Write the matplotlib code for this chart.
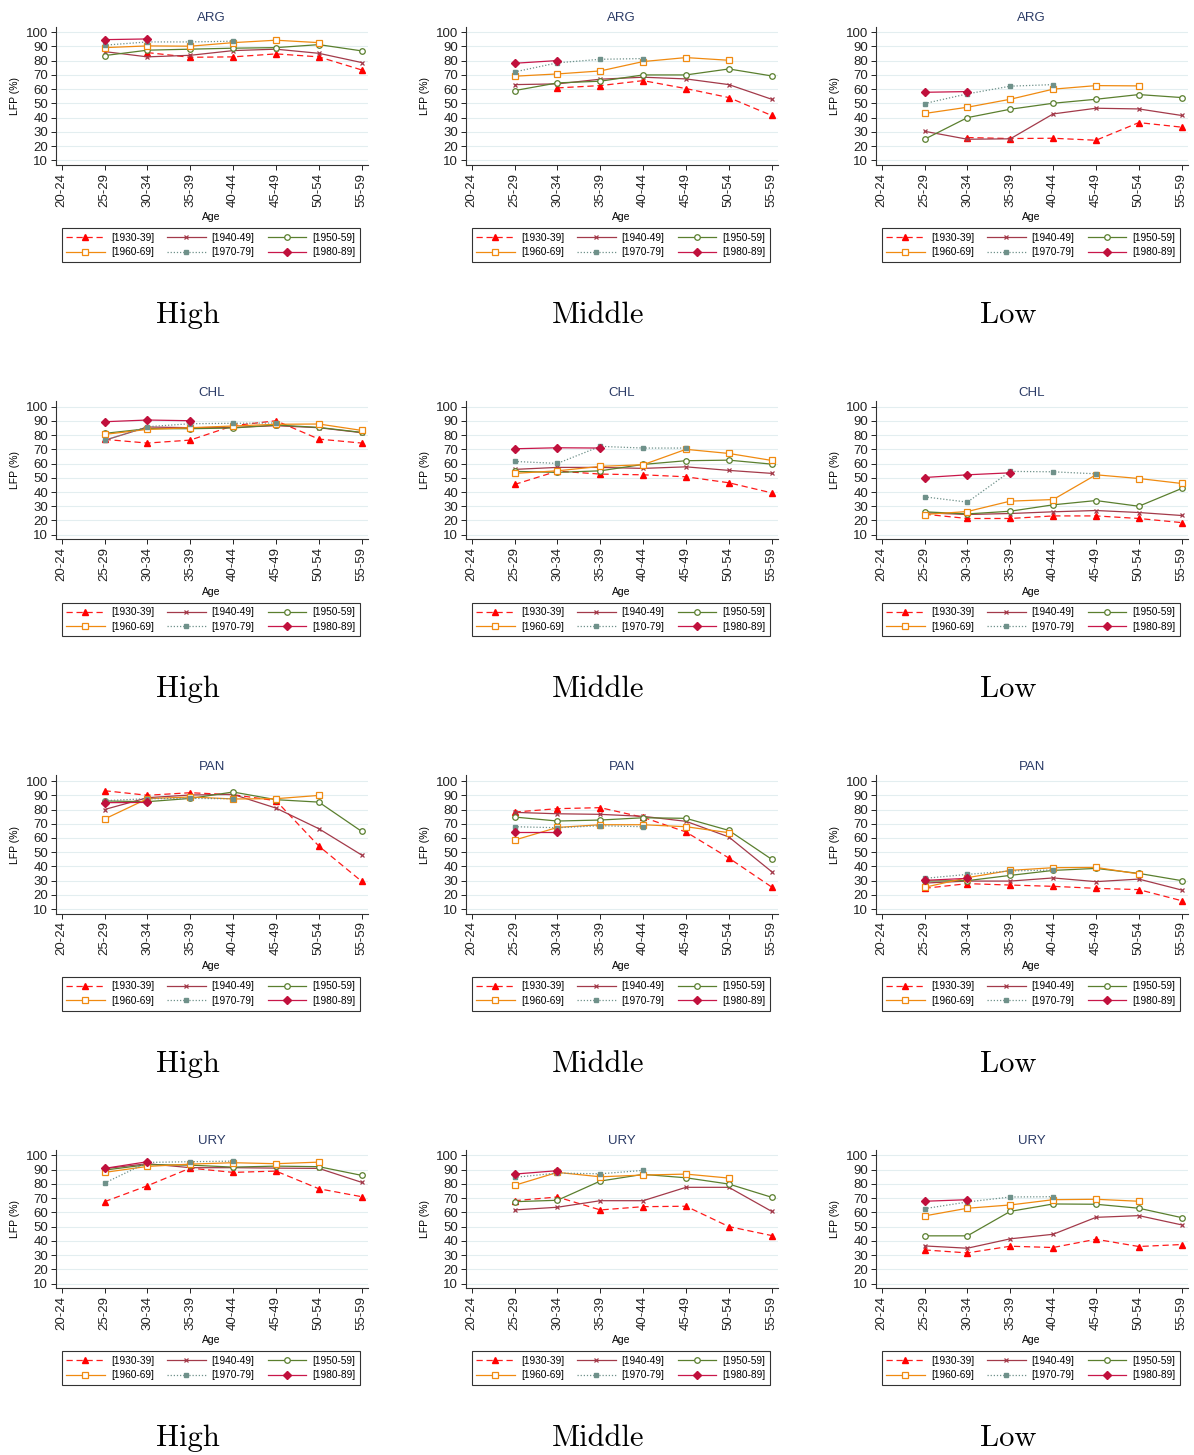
import numpy as np
import matplotlib
matplotlib.use('Agg')
import matplotlib.pyplot as plt

nan = np.nan

ages = ['20-24', '25-29', '30-34', '35-39', '40-44', '45-49', '50-54', '55-59']
cohorts = ['[1930-39]', '[1940-49]', '[1950-59]', '[1960-69]', '[1970-79]', '[1980-89]']
countries = ['ARG', 'CHL', 'PAN', 'URY']
levels = ['High', 'Middle', 'Low']

# one list per cohort (1930s ... 1980s), values by age group, nan = not observed
ARG_HIGH = [[nan, nan, 85.7, 82.4, 82.7, 84.8, 82.7, 73.5],
            [nan, 86.4, 82.7, 83.8, 87.1, 88.1, 85.2, 78.7],
            [nan, 83.6, 87.4, 88.1, 88.8, 89.2, 91.3, 86.9],
            [nan, 89.2, 90.4, 90.2, 92.7, 94.4, 92.7],
            [nan, 90.9, 93.2, 93.2, 93.7],
            [nan, 94.8, 95.3]]
ARG_MID = [[nan, nan, 60.9, 62.5, 66.0, 60.4, 54.1, 41.5],
           [nan, 63.2, 63.7, 67.0, 68.4, 67.2, 63.2, 52.9],
           [nan, 59.0, 64.4, 65.6, 70.0, 70.0, 74.2, 69.3],
           [nan, 69.1, 70.7, 72.8, 79.4, 82.2, 80.3],
           [nan, 72.1, 78.5, 81.0, 81.5],
           [nan, 78.2, 80.1]]
ARG_LOW = [[nan, nan, 26.0, 25.3, 25.5, 24.1, 36.5, 33.3],
           [nan, 30.4, 24.8, 25.1, 42.6, 46.6, 46.1, 41.5],
           [nan, 24.8, 40.0, 45.9, 50.1, 52.9, 56.2, 54.1],
           [nan, 42.9, 47.3, 52.9, 60.0, 62.5, 62.3],
           [nan, 49.9, 56.7, 62.1, 63.2],
           [nan, 57.8, 58.3]]

CHL_HIGH = [[nan, 77.0, 74.4, 76.5, 86.6, 90.1, 77.2, 74.4],
            [nan, 76.3, 85.7, 85.2, 85.4, 86.6, 85.2, 81.7],
            [nan, 81.2, 84.5, 84.5, 85.0, 87.1, 85.4, 81.9],
            [nan, 80.5, 84.0, 85.2, 86.4, 87.6, 87.8, 83.3],
            [nan, 76.3, 85.9, 88.0, 88.3, 88.5],
            [nan, 89.4, 90.6, 90.1]]
CHL_MID = [[nan, 45.3, 54.7, 52.6, 52.1, 50.7, 46.5, 39.4],
           [nan, 55.9, 57.3, 57.3, 56.6, 57.7, 55.2, 53.1],
           [nan, 54.5, 53.8, 54.9, 59.4, 62.0, 62.4, 59.6],
           [nan, 53.1, 54.9, 58.0, 59.2, 70.0, 67.1, 62.2],
           [nan, 61.5, 60.1, 72.1, 70.9, 70.9],
           [nan, 70.4, 71.1, 70.9]]
CHL_LOW = [[nan, 24.4, 21.4, 21.4, 23.2, 23.2, 21.4, 18.5],
           [nan, 25.4, 24.2, 24.9, 26.1, 27.0, 25.6, 23.5],
           [nan, 26.1, 24.6, 26.5, 31.0, 34.0, 30.0, 42.5],
           [nan, 24.2, 26.3, 33.6, 34.7, 52.1, 49.5, 46.0],
           [nan, 36.6, 32.9, 54.5, 54.2, 52.8],
           [nan, 50.2, 52.1, 53.5]]

PAN_HIGH = [[nan, 93.2, 90.0, 91.8, 90.4, 86.2, 54.3, 29.5],
            [nan, 80.0, 88.3, 90.2, 90.6, 81.0, 66.5, 48.0],
            [nan, 86.0, 85.5, 87.8, 92.3, 86.9, 85.2, 64.6],
            [nan, 73.3, 87.6, 88.8, 87.4, 87.6, 89.9],
            [nan, 86.2, 87.6, 87.8, 87.6],
            [nan, 84.8, 85.0]]
PAN_MID = [[nan, 78.2, 80.6, 81.3, 74.5, 64.2, 45.9, 25.5],
           [nan, 78.0, 77.0, 76.6, 75.2, 71.7, 60.7, 36.3],
           [nan, 74.7, 71.9, 72.6, 74.2, 73.8, 65.3, 45.0],
           [nan, 58.5, 67.4, 69.3, 69.3, 67.9, 63.7],
           [nan, 67.9, 67.2, 68.6, 67.9],
           [nan, 64.2, 64.2]]
PAN_LOW = [[nan, 24.6, 27.9, 26.9, 26.0, 24.6, 23.7, 15.9],
           [nan, 28.3, 29.7, 29.7, 31.9, 29.3, 31.1, 23.4],
           [nan, 29.7, 30.0, 33.7, 37.2, 38.6, 35.1, 30.0],
           [nan, 25.3, 32.1, 37.2, 39.1, 39.3, 34.7],
           [nan, 31.6, 34.4, 36.8, 37.5],
           [nan, 30.2, 31.6]]

URY_HIGH = [[nan, 67.5, 78.7, 91.1, 88.1, 89.0, 76.6, 71.0],
            [nan, 90.7, 94.2, 91.4, 91.4, 91.1, 90.9, 81.1],
            [nan, 89.7, 93.5, 93.2, 91.8, 92.5, 92.1, 86.0],
            [nan, 88.1, 92.3, 93.9, 94.9, 94.2, 95.3],
            [nan, 80.6, 95.1, 95.6, 96.0],
            [nan, 90.9, 95.6]]
URY_MID = [[nan, 68.2, 70.8, 61.7, 64.0, 64.3, 50.0, 43.7],
           [nan, 61.7, 63.6, 68.2, 68.2, 77.6, 77.6, 60.7],
           [nan, 67.5, 68.5, 82.0, 86.7, 84.3, 79.9, 70.6],
           [nan, 79.0, 88.1, 85.0, 86.2, 86.9, 84.1],
           [nan, 84.6, 87.6, 87.1, 89.5],
           [nan, 86.9, 89.3]]
URY_LOW = [[nan, 33.6, 31.5, 36.2, 35.3, 41.1, 36.0, 37.4],
           [nan, 36.4, 34.8, 41.4, 44.6, 56.5, 57.7, 51.2],
           [nan, 43.5, 43.5, 60.7, 65.9, 65.7, 62.9, 56.3],
           [nan, 57.5, 62.9, 65.2, 68.9, 69.2, 67.8],
           [nan, 62.6, 67.3, 70.8, 71.0],
           [nan, 67.8, 68.9]]

panels = [[ARG_HIGH, ARG_MID, ARG_LOW],
          [CHL_HIGH, CHL_MID, CHL_LOW],
          [PAN_HIGH, PAN_MID, PAN_LOW],
          [URY_HIGH, URY_MID, URY_LOW]]

# stata-ish style per cohort
styles = [dict(color='#ff1a1a', ls=(0, (5, 3)), marker='^', ms=5, mfc='#ff0000', mec='#ff0000'),
          dict(color='#a33a4a', ls='-', marker='x', ms=3, mew=0.9, mec='#a33a4a'),
          dict(color='#5a7f2e', ls='-', marker='o', ms=4, mfc='white', mec='#5a7f2e', mew=0.9),
          dict(color='#f08a10', ls='-', marker='s', ms=5, mfc='white', mec='#f08a10', mew=0.9),
          dict(color='#6f918a', ls=(0, (1, 1.5)), marker='s', ms=3.2, mfc='#6f918a', mec='#6f918a'),
          dict(color='#c8174a', ls='-', marker='D', ms=4.5, mfc='#c0103c', mec='#c0103c')]


def pad(vals):
    out = np.full(len(ages), np.nan)
    out[:len(vals)] = vals
    return out


W, H = 1194, 1455
fig = plt.figure(figsize=(W / 100, H / 100), dpi=100)
plt.rcParams['font.family'] = ['Liberation Sans', 'DejaVu Sans']

x = np.arange(len(ages))
for r, country in enumerate(countries):
    for c, level in enumerate(levels):
        x0 = c * 410
        y0 = r * 374.4
        ax = fig.add_axes([(x0 + 55.7) / W, 1 - (y0 + 165) / H, 312 / W, 138.3 / H])
        handles = []
        for k, series in enumerate(panels[r][c]):
            st = styles[k]
            h, = ax.plot(x, pad(series), lw=0.9, label=cohorts[k], **st)
            handles.append(h)
        ax.set_xlim(-0.14, 7.14)
        ax.set_ylim(6.7, 103.9)
        ax.set_yticks(np.arange(10, 101, 10))
        ax.set_xticks(x)
        ax.set_xticklabels(ages, rotation=90)
        ax.tick_params(labelsize=9.5, length=3.5, width=0.7, pad=2, colors='#222222')
        ax.grid(axis='y', color='#e3eef0', lw=0.8)
        ax.set_axisbelow(True)
        for s in ['top', 'right']:
            ax.spines[s].set_visible(False)
        for s in ['left', 'bottom']:
            ax.spines[s].set_linewidth(0.8)
            ax.spines[s].set_color('#333333')
        ax.set_title(country, fontsize=9.5, color='#2b3b66', pad=4)
        ax.set_ylabel('LFP (%)', fontsize=7.5, labelpad=4)
        ax.set_xlabel('Age', fontsize=7.5, labelpad=4)
        order = [0, 3, 1, 4, 2, 5]
        leg = ax.legend([handles[i] for i in order], [cohorts[i] for i in order],
                        ncol=3, loc='lower left', mode='expand',
                        bbox_to_anchor=(0.019, -0.70, 0.956, 0.244),
                        fontsize=7.3, frameon=True, fancybox=False,
                        handlelength=3.8, handletextpad=0.6, columnspacing=1.0,
                        borderpad=0.45, labelspacing=0.45, borderaxespad=0)
        leg.get_frame().set_edgecolor('black')
        leg.get_frame().set_linewidth(0.8)
        fig.text((x0 + 188) / W, 1 - (y0 + 323) / H, level, fontsize=22,
                 family='cmr10', ha='center', va='baseline')

fig.savefig('out.png', dpi=100)
